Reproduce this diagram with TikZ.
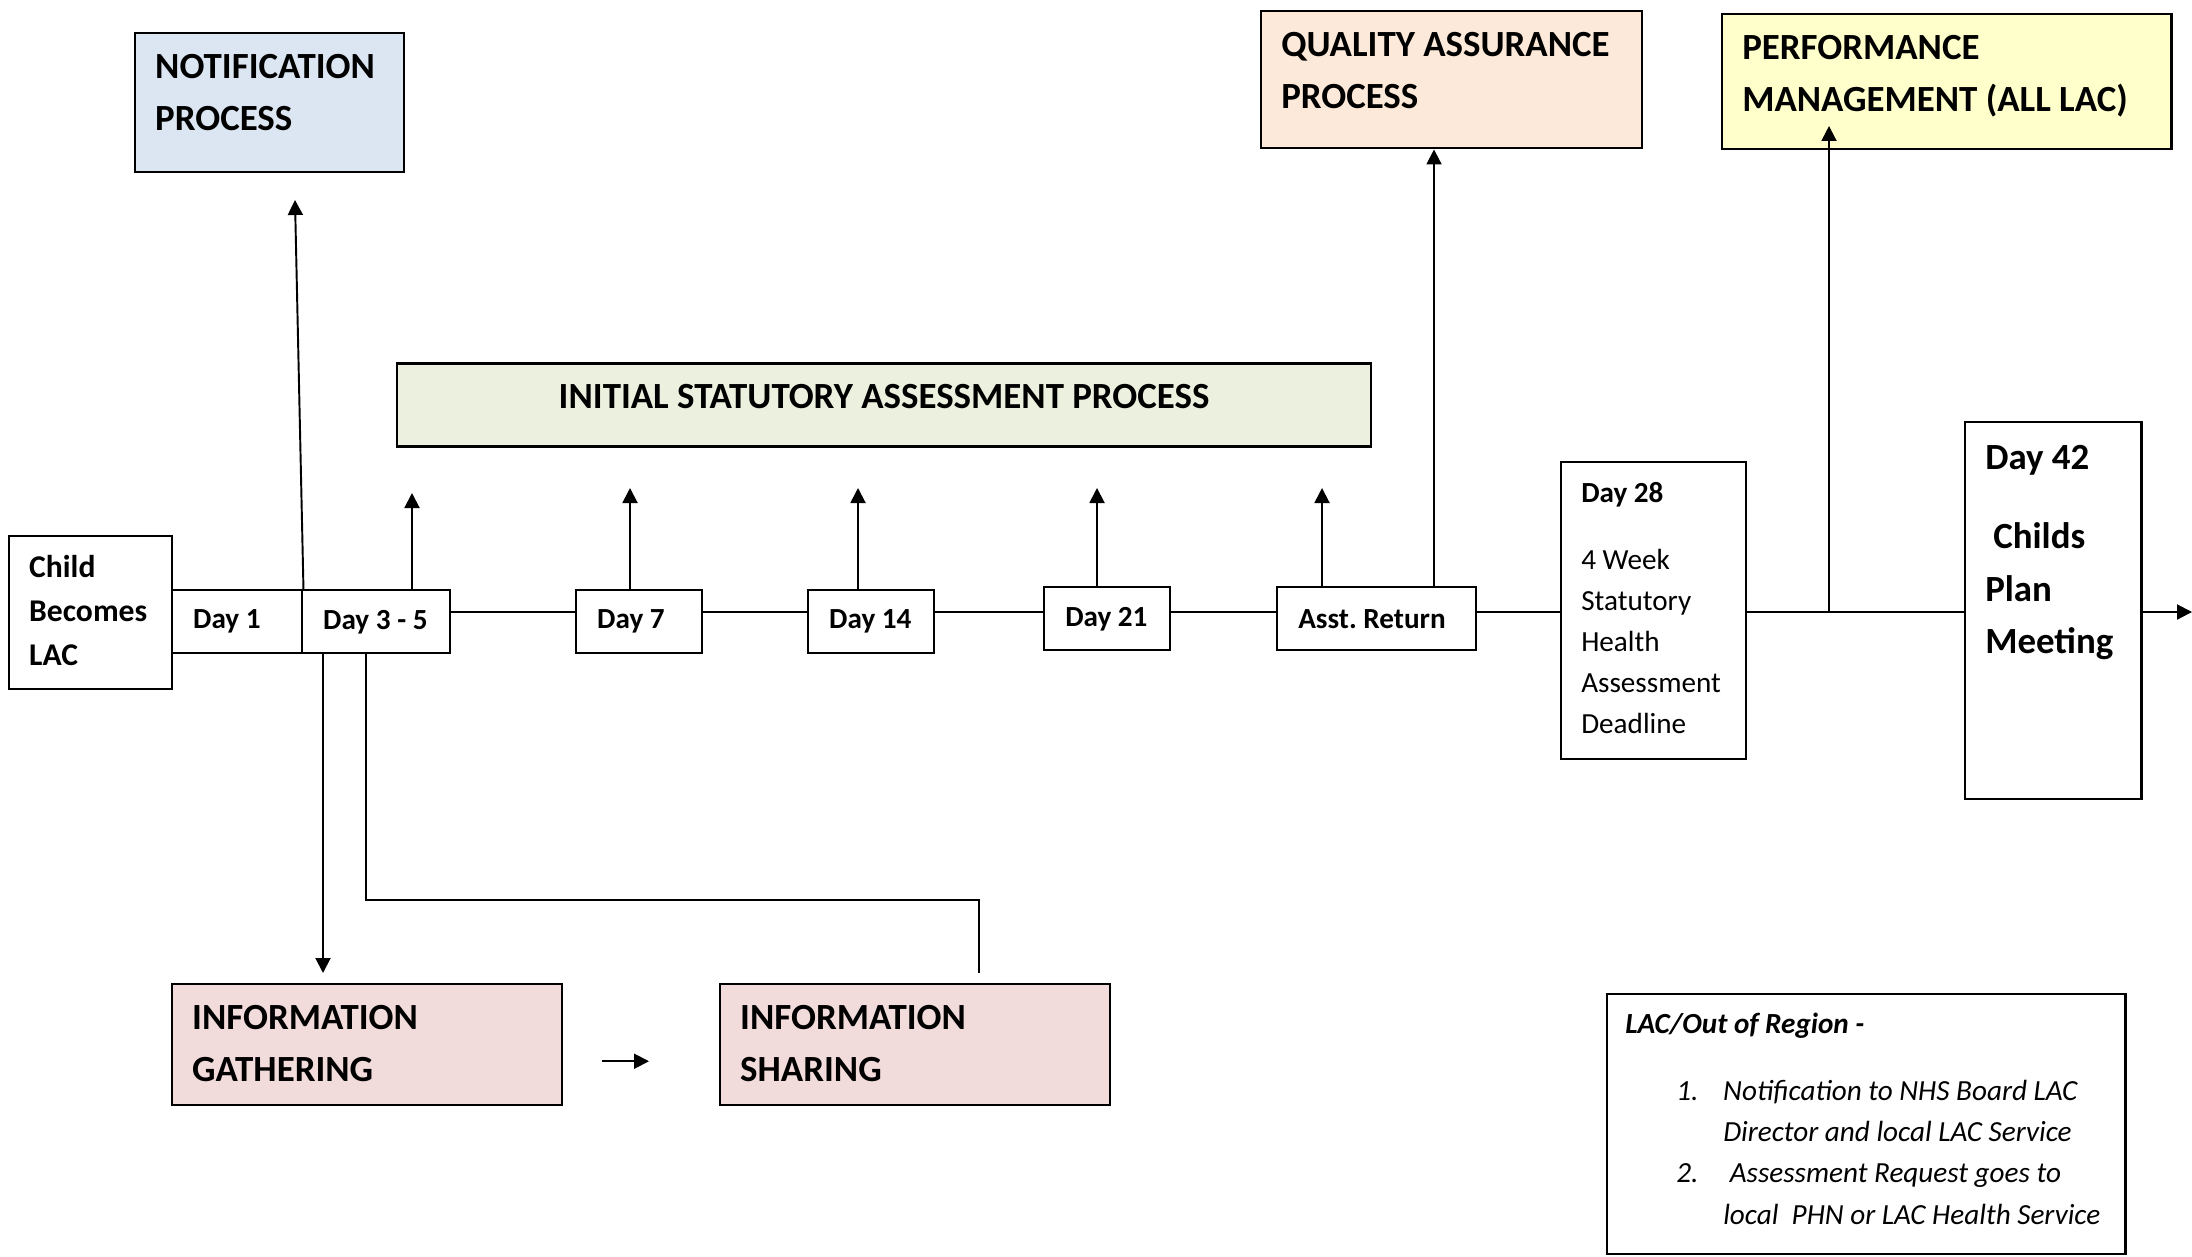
\documentclass[tikz,border=0pt]{standalone}
\usepackage{fontspec}
\setmainfont{Carlito}
\usetikzlibrary{arrows.meta}

\definecolor{notifblue}{HTML}{DCE6F2}
\definecolor{isagreen}{HTML}{EBF1DE}
\definecolor{qapeach}{HTML}{FDE9D9}
\definecolor{perfyellow}{HTML}{FFFFCC}
\definecolor{infopink}{HTML}{F2DCDB}

\newcommand{\headfont}{\bfseries\fontsize{10.5}{15}\selectfont}
\newcommand{\dayfont}{\fontsize{8.3}{11.7}\selectfont}

\tikzset{
  procbox/.style={draw, line width=0.7pt, anchor=north west, align=flush left,
    inner xsep=0.2cm, inner ysep=0.15cm, text height=0.3cm, font=\headfont},
  daybox/.style={draw, line width=0.7pt, anchor=north west, align=flush left,
    inner xsep=0.21cm, inner ysep=0pt, minimum height=0.63cm, font=\bfseries\dayfont},
  link/.style={line width=0.55pt},
  arr/.style={link, -{Triangle[length=1.5mm,width=1.5mm]}}
}

\begin{document}
\begin{tikzpicture}
\useasboundingbox (0,0) rectangle (21.92,-12.56);

% process boxes
\node[procbox, fill=notifblue, text width=2.29cm, text depth=0.79cm] (notif) at (1.34,-0.32) {NOTIFICATION\\PROCESS};
\node[procbox, fill=qapeach, text width=3.41cm, text depth=0.77cm] (qa) at (12.60,-0.10) {QUALITY ASSURANCE\\PROCESS};
\node[procbox, fill=perfyellow, text width=4.09cm, text depth=0.75cm] (perf) at (17.21,-0.13) {PERFORMANCE\\MANAGEMENT (ALL LAC)};
\node[draw, line width=0.7pt, fill=isagreen, font=\headfont, minimum width=9.74cm, minimum height=0.83cm, text depth=0.18cm] (isa) at (8.84,-4.05) {INITIAL STATUTORY ASSESSMENT PROCESS};

% time line
\node[procbox, font=\bfseries\fontsize{9}{12.5}\selectfont, text height=0.26cm, text width=1.23cm, text depth=0.97cm] (child) at (0.08,-5.35) {Child\\Becomes\\LAC};
\node[daybox, text width=0.88cm] (d1) at (1.71,-5.89) {Day~1};
\node[daybox, text width=1.06cm] (d35) at (3.01,-5.89) {Day~3~-~5};
\node[daybox, text width=0.84cm] (d7) at (5.75,-5.89) {Day~7};
\node[daybox, text width=0.84cm] (d14) at (8.07,-5.89) {Day~14};
\node[daybox, text width=0.84cm] (d21) at (10.43,-5.86) {Day~21};
\node[daybox, text width=1.57cm] (asst) at (12.76,-5.86) {Asst.~Return};
\node[procbox, font=\dayfont, text height=0.25cm, text width=1.45cm, text depth=2.42cm] (d28) at (15.60,-4.61) {\textbf{Day 28}\\[7.3pt]4 Week\\Statutory\\Health\\Assessment\\Deadline};
\node[procbox, text height=0.32cm, text width=1.36cm, text depth=3.15cm] (d42) at (19.64,-4.21) {Day 42\\[7.5pt]\hspace*{0.08cm}Childs\\Plan\\Meeting};

% information boxes
\node[procbox, fill=infopink, text width=3.50cm, text depth=0.61cm] (gath) at (1.71,-9.83) {INFORMATION\\GATHERING};
\node[procbox, fill=infopink, text width=3.50cm, text depth=0.61cm] (shar) at (7.19,-9.83) {INFORMATION\\SHARING};

\node[procbox, font=\itshape\dayfont, text height=0.24cm, inner xsep=0.18cm, text width=4.82cm, text depth=2.06cm] (oor) at (16.06,-9.93) {\textbf{LAC/Out of Region -}\\[7.5pt]
\hspace*{0.51cm}\makebox[0.47cm][l]{1.}Notification to NHS Board LAC\\
\hspace*{0.98cm}Director and local LAC Service\\
\hspace*{0.51cm}\makebox[0.47cm][l]{2.}\ Assessment Request goes to\\
\hspace*{0.98cm}local\ \ PHN or LAC Health Service};

% connectors
\coordinate (mainline) at (0,-6.12);
\coordinate (exit) at (21.92,-6.12);
\draw[link] (d35.east |- mainline) -- (d7.west |- mainline);
\draw[link] (d7.east |- mainline) -- (d14.west |- mainline);
\draw[link] (d14.east |- mainline) -- (d21.west |- mainline);
\draw[link] (d21.east |- mainline) -- (asst.west |- mainline);
\draw[link] (asst.east |- mainline) -- (d28.west |- mainline);
\draw[link] (d28.east |- mainline) -- (d42.west |- mainline);
\draw[arr] (d42.east |- mainline) -- (exit);

\coordinate (notiftip) at (2.95,-2.00);
\draw[arr] (d1.north east) -- (notiftip);
\foreach \n/\x/\y in {d35/4.12/4.93, d7/6.30/4.88, d14/8.58/4.88, d21/10.97/4.88, asst/13.22/4.88}{
  \coordinate (\n tip) at (\x,-\y);
  \draw[arr] (\n.north -| \n tip) -- (\n tip);
}
\coordinate (qaline) at (14.34,0);
\draw[arr] (asst.north -| qaline) -- (qa.south -| qaline);
\coordinate (perftip) at (18.29,-1.26);
\draw[arr] (perftip |- mainline) -- (perftip);

\coordinate (gathtip) at (3.23,-9.73);
\draw[arr] (d35.south -| gathtip) -- (gathtip);
\coordinate (sharebend) at (3.66,-9.00);
\coordinate (shartop) at (9.79,-9.73);
\draw[link] (d35.south -| sharebend) -- (sharebend) -| (shartop);
\draw[arr, shorten <=0.39cm, shorten >=0.70cm] ([yshift=-0.165cm]gath.east) -- ([yshift=-0.165cm]shar.west);
\end{tikzpicture}
\end{document}
